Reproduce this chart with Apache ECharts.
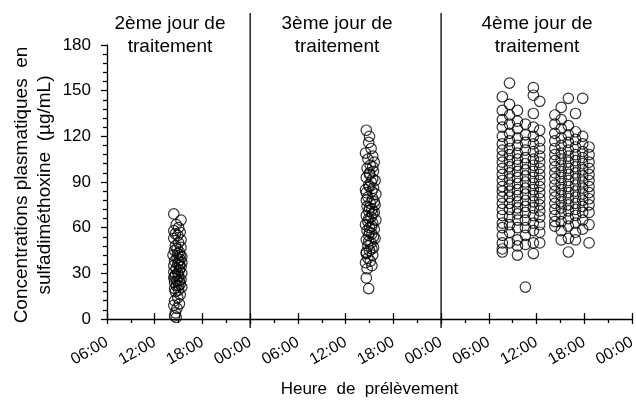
<!DOCTYPE html>
<html>
<head>
<meta charset="utf-8">
<script src="https://cdn.jsdelivr.net/npm/echarts@6/dist/echarts.min.js"></script>
<style>
html,body{margin:0;padding:0;background:#fff;}
#chart{width:636px;height:400px;}
</style>
</head>
<body>
<div id="chart"></div>
<script>
// ---- Data (hours since midnight of day 2, concentration µg/mL) ----
const xTickHours = [6, 12, 18, 24, 30, 36, 42, 48, 54, 60, 66, 72];
const dayTitles = ['2ème jour de\ntraitement', '3ème jour de\ntraitement', '4ème jour de\ntraitement'];
const dayDividers = [24, 48];

const day2Points = [
  [14.4,69],[15.3,65],[14.7,62],[15.0,60],[14.4,58],[15.2,57],[14.6,56],[14.9,55],[14.4,53],[15.3,52],
  [15.0,50],[14.6,48],[15.3,47],[14.8,46],[14.5,45],[15.1,44],[14.9,43],[14.3,42],[15.2,42],[15.4,41],
  [14.8,40],[15.2,39],[14.5,38],[15.0,38],[15.4,37],[14.9,36],[14.4,35],[15.1,35],[15.3,34],[14.7,33],
  [15.1,32],[14.4,31],[15.4,30],[14.9,30],[14.6,29],[15.0,28],[14.5,28],[14.4,27],[15.3,26],[14.8,25],
  [15.1,25],[14.5,24],[15.2,23],[14.7,22],[15.0,22],[15.4,21],[14.5,20],[15.0,19],[14.6,18],[15.2,16],
  [14.9,14],[14.5,12],[15.1,10],[14.4,9],[14.8,7],[14.6,4],[14.5,2],[14.7,1]
];

const day3Points = [
  [38.6,124],[39.0,120],[38.9,116],[39.2,112],[38.5,109],[39.4,107],[38.8,105],[39.6,103],[39.1,101],[39.4,100],
  [38.7,99],[39.5,97],[39.0,96],[39.0,95],[38.6,93],[39.4,92],[39.7,91],[39.2,90],[38.9,88],[39.0,87],
  [39.5,86],[38.5,85],[39.3,84],[38.6,83],[39.8,82],[38.8,80],[39.4,79],[38.6,78],[39.6,77],[39.1,76],
  [39.7,75],[38.7,74],[39.0,73],[39.3,72],[38.9,71],[39.6,70],[39.4,69],[38.6,68],[39.2,67],[38.9,66],
  [39.8,65],[38.8,64],[39.4,63],[38.5,62],[39.3,61],[39.0,60],[39.6,59],[38.7,58],[39.0,57],[39.3,56],
  [38.9,55],[39.5,54],[39.7,53],[38.6,52],[38.9,51],[39.2,50],[38.8,48],[39.5,47],[39.3,46],[39.0,45],
  [38.6,44],[38.6,43],[39.4,42],[38.8,40],[39.1,38],[38.5,37],[39.3,35],[38.7,33],[38.6,27],[38.9,20]
];

const day4ColumnTimes = [55.7, 56.6, 57.6, 58.6, 59.6, 60.4, 62.3, 63.1, 64.0, 64.9, 65.8, 66.6];
const day4ColumnValues = [
  [146,137,131,126,120,115,111,107,103,99,95,91,87,84,80,76,72,68,63,60,55,50,46,44],
  [155,141,134,128,122,117,112,108,104,100,96,92,88,84,80,76,72,67,62,57,50],
  [137,130,125,119,114,109,105,101,97,93,89,85,81,77,73,69,65,60,52,48,42],
  [128,121,116,111,106,102,98,94,90,86,82,78,74,70,65,60,55,49,21],
  [152,147,135,126,120,115,110,105,101,97,93,89,85,81,77,73,68,63,58,50,43],
  [143,124,117,112,107,103,99,95,91,87,83,79,75,71,67,62,57,50],
  [134,128,122,117,112,108,104,100,96,92,88,84,80,76,72,68,64,61],
  [139,131,125,119,114,109,105,101,97,93,89,85,81,77,73,69,64,58,52],
  [145,127,121,116,111,107,103,99,95,91,87,83,79,75,71,66,61,53,44],
  [135,123,118,113,108,104,100,96,92,88,84,80,76,72,68,63,57,52],
  [145,120,115,110,106,102,98,94,90,86,82,78,74,70,65,59],
  [113,108,103,99,95,91,87,83,79,75,70,62,50]
];

// ---- Build ----
const day4Points = [];
day4ColumnTimes.forEach((t, i) => day4ColumnValues[i].forEach(v => day4Points.push([t, v])));

const FONT = "'Liberation Sans', Arial, sans-serif";
const chart = echarts.init(document.getElementById('chart'), null, {renderer: 'canvas'});

const pointStyle = {
  type: 'scatter', symbol: 'circle', symbolSize: 10.5,
  itemStyle: {color: 'rgba(255,255,255,0)', borderColor: '#000', borderWidth: 1.2},
  emphasis: {disabled: true}, silent: true, animation: false
};

function fmtHour(v) {
  const h = ((v % 24) + 24) % 24;
  return (h < 10 ? '0' : '') + h + ':00';
}

const option = {
  animation: false,
  grid: {left: 107, right: 4, top: 45, bottom: 81, containLabel: false, outerBoundsMode: 'none'},
  xAxis: [{
    type: 'value', min: xTickHours[0], max: xTickHours[xTickHours.length - 1], interval: 6,
    axisLine: {show: true, onZero: false, lineStyle: {color: '#000', width: 1.3}},
    axisTick: {show: true, inside: false, length: 5, lineStyle: {color: '#000', width: 1.3}},
    minorTick: {show: true, splitNumber: 2, length: 4, lineStyle: {color: '#000', width: 1.3}},
    splitLine: {show: false},
    axisLabel: {rotate: 30, margin: 22, color: '#000', fontFamily: FONT, fontSize: 16, formatter: fmtHour, showMinLabel: true, showMaxLabel: true},
    name: 'Heure  de  prélèvement', nameLocation: 'middle', nameGap: 62,
    nameTextStyle: {color: '#000', fontFamily: FONT, fontSize: 17}
  }, {
    type: 'value', min: xTickHours[0], max: xTickHours[xTickHours.length - 1], interval: 6, position: 'bottom',
    axisLine: {show: false, onZero: false},
    axisTick: {show: true, inside: true, length: 6, lineStyle: {color: '#000', width: 1.3}},
    axisLabel: {show: false}, splitLine: {show: false}
  }],
  yAxis: {
    type: 'value', min: 0, max: 180, interval: 30,
    axisLine: {show: true, lineStyle: {color: '#000', width: 1.3}},
    axisTick: {show: true, inside: false, length: 6, lineStyle: {color: '#000', width: 1.3}},
    minorTick: {show: true, splitNumber: 5, length: 4, lineStyle: {color: '#000', width: 1.3}},
    splitLine: {show: false},
    axisLabel: {margin: 16, color: '#000', fontFamily: FONT, fontSize: 17}
  },
  series: [
    Object.assign({name: 'Jour 2', data: day2Points}, pointStyle),
    Object.assign({name: 'Jour 3', data: day3Points}, pointStyle),
    Object.assign({name: 'Jour 4', data: day4Points}, pointStyle)
  ]
};
chart.setOption(option);

// Dividers and titles placed through the axis scale
const titleX = [170, 337, 537];
const graphics = [];
dayDividers.forEach(h => {
  const px = chart.convertToPixel({xAxisIndex: 0}, h);
  graphics.push({type: 'line', silent: true, shape: {x1: px, y1: 13, x2: px, y2: 328}, style: {stroke: '#000', lineWidth: 1.3}});
});
dayTitles.forEach((t, i) => {
  graphics.push({type: 'text', silent: true, x: titleX[i], y: 12,
    style: {text: t, fill: '#000', font: '19px ' + FONT, textAlign: 'center', textVerticalAlign: 'top', lineHeight: 23}});
});
graphics.push({type: 'text', silent: true, x: 22, y: 185, rotation: Math.PI / 2,
  style: {text: 'Concentrations plasmatiques  en', fill: '#000', font: '19px ' + FONT, textAlign: 'center', textVerticalAlign: 'middle'}});
graphics.push({type: 'text', silent: true, x: 45, y: 185, rotation: Math.PI / 2,
  style: {text: 'sulfadiméthoxine  (µg/mL)', fill: '#000', font: '19px ' + FONT, textAlign: 'center', textVerticalAlign: 'middle'}});
chart.setOption({graphic: graphics});
</script>
</body>
</html>
